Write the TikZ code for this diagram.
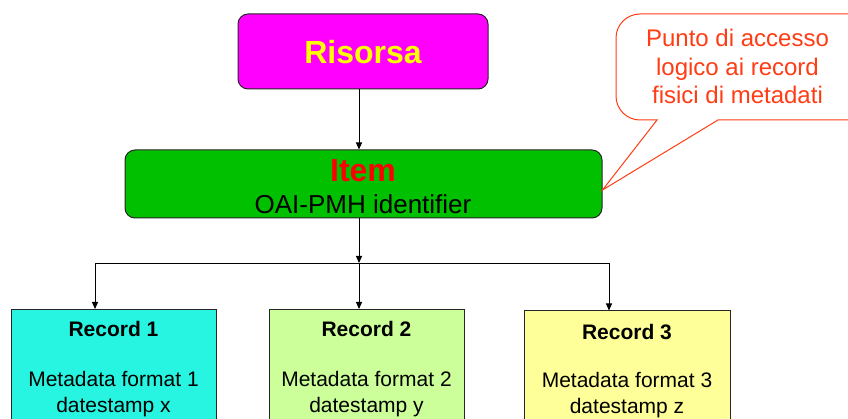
\documentclass[tikz,border=0pt]{standalone}
\usepackage{fontspec}
\setmainfont{Liberation Sans}
\usetikzlibrary{arrows.meta}
\definecolor{recA}{RGB}{40,245,225}
\definecolor{recB}{RGB}{204,255,153}
\definecolor{recC}{RGB}{255,255,153}
\definecolor{itemgreen}{RGB}{0,192,0}
\definecolor{notecol}{RGB}{255,60,20}
\definecolor{rismag}{RGB}{255,0,255}
\definecolor{risyel}{RGB}{255,255,0}
\definecolor{itemred}{RGB}{255,0,0}
\begin{document}
\begin{tikzpicture}[x=1pt,y=-1pt,
  box/.style={draw=black!85, line width=1pt, inner sep=0pt},
  rbox/.style={box, rounded corners=10pt},
  recbox/.style={box, line width=0.8pt, minimum height=140pt, anchor=north west},
  txt/.style={anchor=base, inner sep=0pt},
  big/.style={font=\fontsize{32}{38}\selectfont\bfseries},
  rtitle/.style={txt, font=\fontsize{21}{25}\selectfont\bfseries},
  rline/.style={txt, font=\fontsize{21}{25}\selectfont},
  notetxt/.style={txt, text=notecol, font=\fontsize{24}{28}\selectfont},
  arr/.style={draw=black, line width=0.9pt, -{Triangle[length=7pt,width=6pt]}},
  wire/.style={draw=black, line width=0.9pt},
  notestyle/.style={draw=notecol, line width=1pt, fill=white}]
\clip (0,0) rectangle (848,419);
\fill[white] (0,0) rectangle (848,419);

% Risorsa
\node[rbox, fill=rismag, minimum width=250pt, minimum height=75pt] (ris) at (363,51.5) {};
\node[txt, big, text=risyel] (risT) at (363,63.5) {Risorsa};

% Item
\node[rbox, fill=itemgreen, minimum width=477pt, minimum height=68pt] (item) at (363.5,184) {};
\node[txt, big, text=itemred] (itemT) at (363,181.7) {Item};
\node[txt, font=\fontsize{26}{30}\selectfont] (itemS) at (363,213.3) {OAI-PMH identifier};

% Records
\node[recbox, fill=recA, minimum width=205pt] (r1) at (11,309) {};
\node[recbox, fill=recB, minimum width=195pt] (r2) at (269,309) {};
\node[recbox, fill=recC, minimum width=206pt] (r3) at (524,310.5) {};

\node[rtitle] (r1a) at (113.5,337) {Record 1};
\node[rline] (r1b) at (113.5,386.7) {Metadata format 1};
\node[rline] (r1c) at (113.5,412.7) {datestamp x};

\node[rtitle] (r2a) at (366.5,337) {Record 2};
\node[rline] (r2b) at (366.5,386.7) {Metadata format 2};
\node[rline] (r2c) at (366.5,412.7) {datestamp y};

\node[rtitle] (r3a) at (627,339) {Record 3};
\node[rline] (r3b) at (627,387.7) {Metadata format 3};
\node[rline] (r3c) at (627,413.3) {datestamp z};

% connectors
\coordinate (mx) at (359,0);
\coordinate (bL) at (95,263);
\coordinate (bM) at (359,263);
\coordinate (bR) at (609,263);
\draw[arr] (ris.south -| mx) -- (item.north -| mx);
\draw[arr] (item.south -| mx) -- (bM);
\draw[wire] (bL) -- (bR);
\draw[arr] (bL) -- (r1.north -| bL);
\draw[arr] (bM) -- (r2.north -| bM);
\draw[arr] (bR) -- (r3.north -| bR);

% callout
\coordinate (tip) at (item.east |- 0,190);
\draw[notestyle] (657,120) -- (tip) -- (718,120) -- (880,120) -- (880,14) -- (640,14)
  arc[start angle=270, end angle=180, radius=24] -- (616,96)
  arc[start angle=180, end angle=90, radius=24] -- cycle;
\node[notetxt] (n1) at (737.5,47) {Punto di accesso};
\node[notetxt] (n2) at (737.5,75.5) {logico ai record};
\node[notetxt] (n3) at (737.5,104) {fisici di metadati};
\end{tikzpicture}
\end{document}
